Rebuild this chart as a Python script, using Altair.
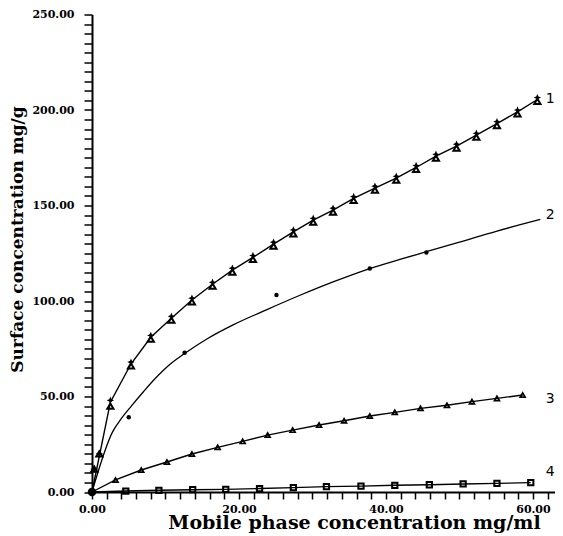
import altair as alt
import pandas as pd

# Series 1 (two overlaid marker sets: stars and triangles)
x1 = [0, 0.3, 1.0, 2.5, 5.3, 8.0, 10.8, 13.6, 16.4, 19.1, 21.9, 24.7, 27.4, 30.1,
      32.8, 35.6, 38.5, 41.4, 44.1, 46.8, 49.6, 52.3, 55.1, 57.9, 60.6]
y1_star = [0, 12, 20, 48, 68, 82, 92, 101.5, 109.8, 117.2, 123.8, 130.8, 137.2, 143.3,
           148.6, 154.7, 160.1, 165.3, 170.9, 176.8, 182.1, 187.8, 193.9, 200.0, 206.5]
y1_tri = [0, 12, 20, 45, 66, 80, 90, 99.5, 107.8, 115.2, 121.8, 128.8, 135.2, 141.3,
          146.6, 152.7, 158.1, 163.3, 168.9, 174.8, 180.1, 185.8, 191.9, 198.0, 204.5]
# Series 1 connecting line
x1_line = [0, 2.5, 5.3, 8.0, 10.8, 13.6, 16.4, 19.1, 21.9, 24.7, 27.4, 30.1,
           32.8, 35.6, 38.5, 41.4, 44.1, 46.8, 49.6, 52.3, 55.1, 57.9, 60.6]
y1_line = [0, 47, 67, 81, 91, 100.5, 108.8, 116.2, 122.8, 129.8, 136.2, 142.3,
           147.6, 153.7, 159.1, 164.3, 169.9, 175.8, 181.1, 186.8, 192.9, 199.0, 205.5]

# Series 2 (smooth curve + a few dots)
x2_curve = [0, 2.8, 4, 5.35, 7, 8.5, 10.5, 12.6, 15.8, 19.2, 23.8, 28.3, 32.8, 37.8,
            41.9, 45.5, 50, 55, 61]
y2_curve = [0, 31.5, 38.5, 45, 52.5, 59, 66.5, 72.5, 80.5, 87.5, 95.5, 103, 110, 117,
            121.8, 125.8, 130.8, 136.5, 142.7]
x2_pts = [5.0, 12.6, 25.1, 37.8, 45.5]
y2_pts = [39.1, 72.9, 103.1, 117, 125.4]

# Series 3 (triangles)
x3 = [0, 3.2, 6.7, 10.2, 13.6, 17.1, 20.5, 23.9, 27.3, 30.9, 34.3, 37.8, 41.2, 44.7,
      48.3, 51.7, 55.1, 58.6]
y3 = [0, 6.3, 11.5, 15.7, 19.9, 23.4, 26.5, 29.8, 32.4, 35.1, 37.3, 39.8, 41.7, 43.8,
      45.4, 47.3, 49.0, 50.8]

# Series 4 (squares)
x4 = [0, 4.6, 9.1, 13.7, 18.2, 22.8, 27.4, 31.9, 36.6, 41.2, 45.9, 50.5, 55.1, 59.7]
y4 = [0, 0.5, 0.9, 1.2, 1.4, 1.8, 2.3, 2.8, 3.1, 3.5, 3.8, 4.2, 4.5, 4.9]

# Curve labels
lab_text = ["1", "2", "3", "4"]
lab_x = [61.75, 61.75, 61.75, 61.75]
lab_y = [205.5, 145, 48.7, 10.6]

FONT = "DejaVu Serif"

xs = alt.Scale(domain=[0, 63], nice=False, zero=False)
ys = alt.Scale(domain=[0, 250], nice=False)

xaxis = alt.Axis(
    title="Mobile phase concentration mg/ml",
    values=list(range(0, 63, 2)),
    labelExpr="datum.value % 20 == 0 ? format(datum.value, '.2f') : ''",
    labelOverlap=False, labelFlush=False,
    grid=False, domainColor="black", domainWidth=2, tickColor="black",
    tickWidth=1.5, tickSize=7, labelFont=FONT, labelFontWeight="bold",
    labelFontSize=11, labelColor="black", labelPadding=4,
    titleFont=FONT, titleFontWeight="bold", titleFontSize=19, titleColor="black",
    titleX=262, titleY=36, titleBaseline="alphabetic",
)
yaxis = alt.Axis(
    title="Surface concentration mg/g",
    values=list(range(0, 251, 5)),
    labelExpr="datum.value % 50 == 0 ? format(datum.value, '.2f') : ''",
    labelOverlap=False, labelFlush=False,
    grid=False, domainColor="black", domainWidth=2, tickColor="black",
    tickWidth=1.5, tickSize=8, labelFont=FONT, labelFontWeight="bold",
    labelFontSize=11, labelColor="black", labelPadding=10,
    titleFont=FONT, titleFontWeight="bold", titleFontSize=17, titleColor="black",
    titleY=224.5, titleX=-66,
)

X = alt.X("x:Q", scale=xs, axis=xaxis)
Y = alt.Y("y:Q", scale=ys, axis=yaxis)

d1l = pd.DataFrame({"x": x1_line, "y": y1_line})
d1s = pd.DataFrame({"x": x1[1:], "y": y1_star[1:]})
d1t = pd.DataFrame({"x": x1[1:], "y": y1_tri[1:]})
d2c = pd.DataFrame({"x": x2_curve, "y": y2_curve})
d2p = pd.DataFrame({"x": x2_pts, "y": y2_pts})
d3 = pd.DataFrame({"x": x3, "y": y3})
d4 = pd.DataFrame({"x": x4, "y": y4})
dl = pd.DataFrame({"x": lab_x, "y": lab_y, "t": lab_text})

line_kw = dict(color="black", strokeWidth=1.4, interpolate="linear")

l1 = alt.Chart(d1l).mark_line(**line_kw).encode(x=X, y=Y)
star = "M0,-1L0.3,-0.3L1,0L0.3,0.3L0,1L-0.3,0.3L-1,0L-0.3,-0.3Z"
p1s = alt.Chart(d1s).mark_point(shape=star, filled=True, color="black", opacity=1,
                                size=55).encode(x=X, y=Y)
p1t = alt.Chart(d1t).mark_point(shape="triangle-up", filled=False, color="black",
                                opacity=1, strokeWidth=2, size=38).encode(x=X, y=Y)

l2 = alt.Chart(d2c).mark_line(color="black", strokeWidth=1.3, interpolate="monotone").encode(x=X, y=Y)
p2 = alt.Chart(d2p).mark_circle(color="black", size=20, opacity=1).encode(x=X, y=Y)

l3 = alt.Chart(d3).mark_line(**line_kw).encode(x=X, y=Y)
p3 = alt.Chart(d3.iloc[1:]).mark_point(shape="triangle-up", filled=False, color="black",
                                       opacity=1, strokeWidth=1.7, size=24).encode(x=X, y=Y)

l4 = alt.Chart(d4).mark_line(**line_kw).encode(x=X, y=Y)
p4 = alt.Chart(d4.iloc[1:]).mark_point(shape="square", filled=False, color="black",
                                       opacity=1, strokeWidth=2, size=28).encode(x=X, y=Y)

origin = alt.Chart(d4.iloc[:1]).mark_circle(color="black", size=75, opacity=1).encode(x=X, y=Y)

labels = alt.Chart(dl).mark_text(font="DejaVu Sans", fontSize=14, color="black",
                                 align="left", baseline="middle").encode(
    x=X, y=Y, text="t:N")

chart = alt.layer(l1, l2, l3, l4, p1t, p1s, p2, p3, p4, origin, labels).properties(
    width=463, height=477.5,
    autosize=alt.AutoSizeParams(type="none"),
    padding={"left": 84, "top": 6.5, "right": 0, "bottom": 43},
    background="white",
).configure_view(stroke=None)

chart.save("out.html", embed_options={"renderer": "svg", "actions": False})
